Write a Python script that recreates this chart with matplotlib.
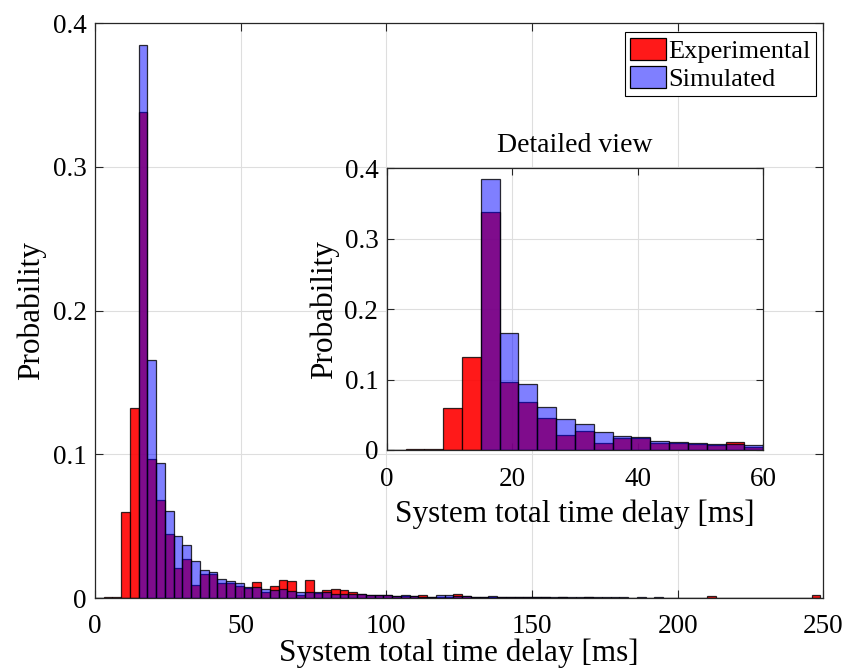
import numpy as np
import matplotlib
matplotlib.use('Agg')
import matplotlib.pyplot as plt
from matplotlib.patches import Patch

# histogram bins (3 ms wide), probability per bin
bin_width = 3
bin_starts = np.arange(0, 249, bin_width)

experimental = [
    0.0, 0.001, 0.001, 0.060, 0.132, 0.338, 0.097, 0.068, 0.045, 0.021,
    0.027, 0.0095, 0.0166, 0.0166, 0.0105, 0.0104, 0.0085, 0.0071, 0.011, 0.0047,
    0.0086, 0.0125, 0.0121, 0.0023, 0.0125, 0.0037, 0.0056, 0.0065, 0.0058, 0.0046,
    0.0027, 0.002, 0.002, 0.0022, 0.0018, 0.0014, 0.0014, 0.0023, 0.001, 0.0012,
    0.0012, 0.003, 0.0019, 0.0009, 0.0008, 0.0009, 0.0007, 0.0008, 0.0006, 0.0007,
    0.0008, 0.0006, 0.0005, 0.0006, 0.0005, 0.0004, 0.0006, 0.0005, 0.0004, 0.0005,
    0.0004, 0.0004, 0.0005, 0.0003, 0.0004, 0.0003, 0.0004, 0.0003, 0.0003, 0.0003,
    0.0019, 0.0003, 0.0002, 0.0003, 0.0002, 0.0002, 0.0003, 0.0002, 0.0002, 0.0002,
    0.0002, 0.0002, 0.0023,
]

simulated = [
    0.0, 0.0, 0.0, 0.0, 0.0, 0.385, 0.166, 0.094, 0.0606, 0.0435,
    0.037, 0.026, 0.020, 0.018, 0.0133, 0.0118, 0.0104, 0.008, 0.008, 0.0066,
    0.006, 0.0065, 0.0049, 0.0044, 0.0042, 0.0044, 0.0045, 0.003, 0.0028, 0.0028,
    0.0028, 0.0021, 0.0021, 0.0023, 0.0019, 0.0023, 0.0014, 0.0012, 0.001, 0.0023,
    0.0023, 0.0015, 0.0013, 0.0012, 0.0011, 0.0014, 0.0010, 0.0009, 0.0011, 0.0009,
    0.0008, 0.0009, 0.0008, 0.0007, 0.0010, 0.0007, 0.0008, 0.0006, 0.0007, 0.0008,
    0.0006, 0.0005, 0.0006, 0.0005, 0.0006, 0.0004, 0.0005, 0.0004, 0.0004, 0.0003,
    0.0004, 0.0003, 0.0003, 0.0003, 0.0002, 0.0003, 0.0002, 0.0002, 0.0002, 0.0001,
    0.0001, 0.0001, 0.0001,
]

main_xticks = [0, 50, 100, 150, 200, 250]
inset_xticks = [0, 20, 40, 60]
yticks = [0, 0.1, 0.2, 0.3, 0.4]
ytick_labels = ['0', '0.1', '0.2', '0.3', '0.4']

plt.rcParams['font.family'] = ['Liberation Serif', 'DejaVu Serif']
plt.rcParams['font.size'] = 19.5

label_size = 22.5

red_face = (1.0, 0.0, 0.0, 0.9)
blue_face = (0.0, 0.0, 1.0, 0.5)
edge = (0.0, 0.0, 0.0, 0.8)
axis_col = (0.15, 0.15, 0.15)
grid_col = (0.87, 0.87, 0.87)


def draw_hist(ax):
    ax.bar(bin_starts, experimental, width=bin_width, align='edge',
           color=red_face, edgecolor=edge, linewidth=0.9, zorder=2)
    ax.bar(bin_starts, simulated, width=bin_width, align='edge',
           color=blue_face, edgecolor=edge, linewidth=0.9, zorder=3)


def style_axes(ax, ticklen, xpad):
    ax.set_axisbelow(True)
    ax.grid(True, color=grid_col, linewidth=0.8)
    ax.tick_params(direction='in', length=ticklen, width=0.8, colors=axis_col,
                   labelcolor='black', top=True, right=True)
    ax.tick_params(axis='x', pad=xpad)
    ax.tick_params(axis='y', pad=6)
    for sp in ax.spines.values():
        sp.set_color(axis_col)
        sp.set_linewidth(0.9)


fig = plt.figure(figsize=(8.48, 6.72), dpi=100)

ax = fig.add_axes([0.112, 0.1097, 0.859, 0.856])
draw_hist(ax)
ax.set_xlim(0, 250)
ax.set_ylim(0, 0.4)
ax.set_xticks(main_xticks)
ax.set_yticks(yticks)
ax.set_yticklabels(ytick_labels)
style_axes(ax, 6, 11)
ax.set_xlabel('System total time delay [ms]', fontsize=label_size, labelpad=0)
ax.set_ylabel('Probability', fontsize=label_size, labelpad=5)

handles = [Patch(facecolor=red_face, edgecolor='black', linewidth=0.9),
           Patch(facecolor=blue_face, edgecolor='black', linewidth=0.9)]
leg = ax.legend(handles, ['Experimental', 'Simulated'], loc='upper right',
                bbox_to_anchor=(0.997, 0.993), fancybox=False, framealpha=1,
                edgecolor='black', borderpad=0.2, handlelength=1.35,
                handleheight=0.95, handletextpad=0.1, labelspacing=0.1,
                borderaxespad=0.2, fontsize=19)
leg.get_frame().set_linewidth(0.8)

inset = fig.add_axes([0.456, 0.3304, 0.444, 0.419])
inset.set_facecolor('white')
draw_hist(inset)
inset.set_xlim(0, 60)
inset.set_ylim(0, 0.4)
inset.set_xticks(inset_xticks)
inset.set_yticks(yticks)
inset.set_yticklabels(ytick_labels)
style_axes(inset, 5, 12)
inset.set_title('Detailed view', fontsize=20, pad=12)
inset.set_xlabel('System total time delay [ms]', fontsize=label_size, labelpad=6)
inset.set_ylabel('Probability', fontsize=label_size, labelpad=4)

fig.savefig('out.png', dpi=100)
